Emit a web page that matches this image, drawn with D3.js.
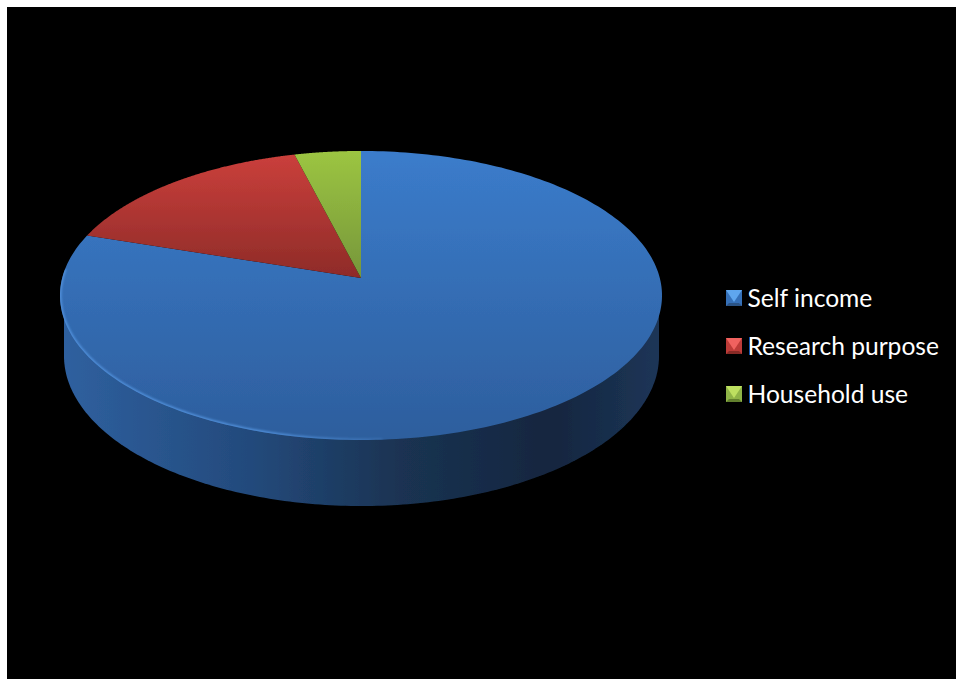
<!DOCTYPE html>
<html>
<head>
<meta charset="utf-8">
<script src="https://cdn.jsdelivr.net/npm/d3@7"></script>
<style>
  html, body { margin: 0; padding: 0; background: #fff; }
  svg { display: block; }
</style>
</head>
<body>
<svg id="chart" width="956" height="679"></svg>
<script>
const categories = ["Self income", "Research purpose", "Household use"];
const values = [80, 16, 4];
const topColors = ["#3b7ccb", "#cc403c", "#9cc542"];
const lowColors = ["#2d5e9d", "#8e2b28", "#76963a"];
const swatchLight = ["#5ea6ee", "#f0625e", "#bde060"];
const swatchMid = ["#3670b8", "#bd3b37", "#8fb446"];
const swatchDark = ["#2a5285", "#872b28", "#62802d"];

const svg = d3.select("#chart");
const defs = svg.append("defs");

svg.append("rect").attr("x", 7).attr("y", 7).attr("width", 949).attr("height", 672).attr("fill", "#000");

// Perspective disc: unit circle (u, v) mapped through a projective transform around the apex.
const apex = [361, 278];
const k = -0.121, bx = 298.8, by = 142.4;
const project = a => {
  const u = Math.sin(a), v = -Math.cos(a), w = 1 + k * v;
  return [apex[0] + bx * u / w, apex[1] + by * v / w];
};

const pie = d3.pie().value(d => d).sort(null);
const arcs = pie(values);

const line = d3.line();
const arcPoints = (a0, a1) => d3.range(0, 241).map(i => project(a0 + (a1 - a0) * i / 240));
const slicePath = d => line([apex, ...arcPoints(d.startAngle, d.endAngle)]) + "Z";
const rimPath = line(arcPoints(0, 2 * Math.PI)) + "Z";

// Wall: lower half of the base ellipse, closed along the rim of the disc.
const base = { cx: 361.5, cy: 356, rx: 297.5, ry: 150 };
const baseX = d3.scaleLinear().domain([-1, 1]).range([base.cx - base.rx, base.cx + base.rx]);
const baseY = d3.scaleLinear().domain([-1, 1]).range([base.cy - base.ry, base.cy + base.ry]);
const wallPts = d3.range(0, 181).map(i => {
  const t = Math.PI * i / 180;
  return [baseX(Math.cos(t)), baseY(Math.sin(t))];
});
const wallPath = line([...wallPts, [base.cx - base.rx, 300]]) + "L" + (base.cx + base.rx) + ",300Z";

const wallGrad = defs.append("linearGradient").attr("id", "wallGrad")
  .attr("gradientUnits", "userSpaceOnUse")
  .attr("x1", 64).attr("x2", 659).attr("y1", 0).attr("y2", 0);
[[0, "#2f609f"], [0.31, "#234a7c"], [0.565, "#1a3352"], [0.82, "#15263f"], [1, "#1c3557"]]
  .forEach(([o, c]) => wallGrad.append("stop").attr("offset", o).attr("stop-color", c));

arcs.forEach((d, i) => {
  const g = defs.append("linearGradient").attr("id", "top" + i)
    .attr("gradientUnits", "userSpaceOnUse")
    .attr("x1", 0).attr("x2", 0)
    .attr("y1", 151).attr("y2", i === 0 ? 440 : 278);
  g.append("stop").attr("offset", 0).attr("stop-color", topColors[i]);
  g.append("stop").attr("offset", 1).attr("stop-color", lowColors[i]);
});

const rimGrad = defs.append("linearGradient").attr("id", "rimGrad")
  .attr("gradientUnits", "userSpaceOnUse")
  .attr("x1", 60).attr("x2", 430).attr("y1", 0).attr("y2", 0);
[[0, 0.9], [0.55, 0.9], [1, 0]].forEach(([o, a]) =>
  rimGrad.append("stop").attr("offset", o).attr("stop-color", "#5596e2").attr("stop-opacity", a));

defs.append("filter").attr("id", "soft").attr("x", "-5%").attr("y", "-5%").attr("width", "110%").attr("height", "110%")
  .append("feGaussianBlur").attr("stdDeviation", 0.9);
defs.append("filter").attr("id", "edge").attr("x", "-2%").attr("y", "-2%").attr("width", "104%").attr("height", "104%")
  .append("feGaussianBlur").attr("stdDeviation", 0.6);
defs.append("clipPath").attr("id", "discClip").append("path").attr("d", rimPath);

svg.append("path").attr("d", wallPath).attr("fill", "url(#wallGrad)").attr("filter", "url(#edge)");

const disc = svg.append("g").attr("filter", "url(#edge)");
disc.selectAll("path").data(arcs).join("path")
  .attr("d", slicePath)
  .attr("fill", (d, i) => `url(#top${i})`);

// Soft light rim along the lower left edge of the disc, fading out towards the front.
svg.append("g").attr("clip-path", "url(#discClip)")
  .append("path")
  .attr("d", line(arcPoints(Math.PI * 0.98, Math.PI * 1.52)))
  .attr("fill", "none")
  .attr("stroke", "url(#rimGrad)")
  .attr("stroke-width", 3)
  .attr("filter", "url(#soft)");

// Legend with bevelled swatches.
const legendY = d3.scalePoint().domain(categories).range([298, 394]);
const sw = 16;
const legend = svg.append("g").selectAll("g").data(categories).join("g")
  .attr("transform", d => `translate(726,${legendY(d) - 8})`);
legend.each(function (d, i) {
  const g = d3.select(this).append("g").attr("filter", "url(#swatchSoft)");
  const inset = 4, c = sw / 2;
  const tri = (pts, fill) => g.append("path").attr("d", line(pts) + "Z").attr("fill", fill);
  tri([[0, 0], [sw, 0], [sw, sw], [0, sw]], swatchMid[i]);
  tri([[0, 0], [sw, 0], [c, sw - inset]], swatchLight[i]);
  tri([[0, sw], [sw, sw], [sw - 3, sw - 3], [3, sw - 3]], swatchDark[i]);
});
defs.append("filter").attr("id", "swatchSoft").append("feGaussianBlur").attr("stdDeviation", 0.4);
legend.append("text")
  .attr("x", 21.5)
  .attr("y", 8)
  .attr("dy", "0.36em")
  .attr("font-family", "Lato, 'Open Sans', sans-serif")
  .attr("font-size", 24.6)
  .attr("fill", "#fff")
  .text(d => d);
</script>
</body>
</html>
